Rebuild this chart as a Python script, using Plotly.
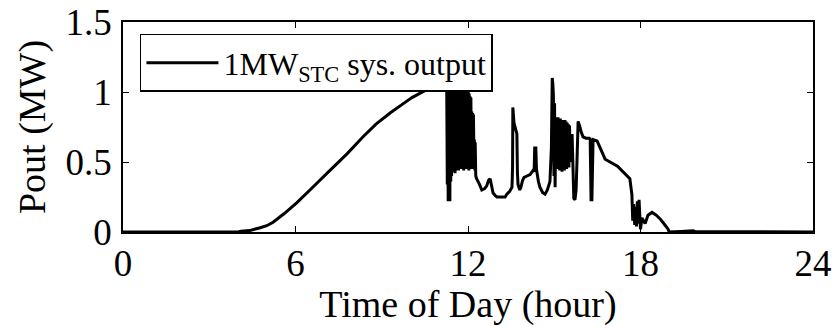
import plotly.graph_objects as go

# Time of day (hour) and PV output (MW)
hours = [
    0.0, 4.0, 4.1, 4.4, 4.77, 5.0, 5.22, 5.6, 6.05, 6.6, 7.2, 7.8, 8.35, 8.8, 9.29, 9.7,
    10.05, 10.5, 11.0, 11.24,
    # dense fluctuation around noon
    11.26, 11.28, 11.29, 11.31, 11.32, 11.34, 11.35, 11.37, 11.38, 11.40, 11.41, 11.43,
    11.44, 11.46, 11.47, 11.49, 11.50, 11.52, 11.53, 11.55, 11.56, 11.58, 11.59, 11.61,
    11.62, 11.64, 11.65, 11.67, 11.68, 11.70, 11.71, 11.73, 11.74, 11.76, 11.77, 11.79,
    11.80, 11.82, 11.83, 11.85, 11.86, 11.88, 11.89, 11.91, 11.92, 11.94, 11.95, 11.97,
    11.98, 12.00, 12.01, 12.03, 12.04, 12.06, 12.07, 12.09, 12.10, 12.12, 12.13, 12.15,
    12.16, 12.18, 12.19, 12.21, 12.22, 12.24, 12.25, 12.27,
    # afternoon
    12.30, 12.40, 12.48, 12.58, 12.65, 12.72, 12.77, 12.82, 12.87, 12.95, 13.01, 13.29,
    13.35, 13.45, 13.53, 13.55, 13.56, 13.60, 13.65, 13.70, 13.72, 13.74, 13.80, 13.84,
    13.90, 13.95, 14.05, 14.16, 14.26, 14.30, 14.32, 14.36, 14.38, 14.45, 14.50, 14.60,
    14.68, 14.76, 14.85, 14.90, 14.93, 14.95, 14.97, 14.99, 15.01, 15.03, 15.05, 15.07,
    15.09, 15.11, 15.13, 15.15, 15.17, 15.19, 15.21, 15.23, 15.25, 15.27, 15.29, 15.31,
    15.33, 15.35, 15.37, 15.39, 15.41, 15.43, 15.45, 15.47, 15.49, 15.51, 15.53, 15.56,
    15.62, 15.68, 15.72, 15.76, 15.79, 15.83, 15.88,
    15.93, 16.00, 16.10, 16.22, 16.25, 16.28, 16.31, 16.35, 16.49, 16.62, 16.77, 17.20,
    17.63, 17.68, 17.70, 17.73, 17.76, 17.80, 17.83, 17.86, 17.89, 17.92, 17.95, 17.98,
    18.00, 18.05, 18.16, 18.26, 18.40, 18.55, 18.70, 18.85, 18.96, 19.0, 19.4, 19.83,
    19.9, 24.0,
]
pout_mw = [
    0.0, 0.0, 0.005, 0.01, 0.03, 0.045, 0.07, 0.13, 0.21, 0.32, 0.44, 0.56, 0.68, 0.77, 0.85, 0.91,
    0.96, 1.01, 1.05, 1.07,
    1.05, 0.34, 1.08, 0.22, 1.06, 0.30, 1.10, 0.22, 1.04, 0.36, 1.08, 0.40,
    1.10, 0.43, 1.06, 0.44, 1.10, 0.45, 1.05, 0.42, 1.08, 0.44, 1.04, 0.46,
    1.07, 0.45, 1.03, 0.44, 1.09, 0.46, 1.05, 0.45, 1.08, 0.47, 1.04, 0.45,
    1.07, 0.46, 1.03, 0.44, 1.06, 0.46, 1.02, 0.45, 1.05, 0.47, 1.03, 0.45,
    1.02, 0.46, 1.00, 0.44, 0.99, 0.46, 0.97, 0.45, 0.96, 0.46, 0.86, 0.45,
    0.85, 0.46, 0.84, 0.45, 0.66, 0.44, 0.64, 0.40,
    0.38, 0.34, 0.30, 0.31, 0.33, 0.37, 0.38, 0.33, 0.28, 0.26, 0.25, 0.25,
    0.27, 0.29, 0.32, 0.46, 0.89, 0.78, 0.74, 0.70, 0.42, 0.34, 0.30, 0.32,
    0.37, 0.39, 0.40, 0.41, 0.44, 0.43, 0.60, 0.60, 0.45, 0.36, 0.32, 0.28,
    0.27, 0.30, 0.36, 0.60, 1.10, 1.06, 0.98, 0.40, 0.92, 0.32, 0.82, 0.55,
    0.80, 0.45, 0.82, 0.47, 0.80, 0.44, 0.81, 0.46, 0.79, 0.43, 0.80, 0.48,
    0.78, 0.44, 0.80, 0.46, 0.79, 0.45, 0.78, 0.47, 0.77, 0.46, 0.76, 0.50,
    0.70, 0.24, 0.23, 0.30, 0.50, 0.79, 0.76, 0.72,
    0.68, 0.67, 0.67, 0.66, 0.23, 0.23, 0.66, 0.65, 0.59, 0.52, 0.47, 0.38,
    0.30, 0.27, 0.08, 0.20, 0.05, 0.18, 0.04, 0.22, 0.06, 0.23, 0.10, 0.02,
    0.10, 0.06, 0.12, 0.14, 0.12, 0.09, 0.05, 0.02, 0.0, 0.004, 0.008, 0.004,
    0.0, 0.0,
]

x_ticks = [0, 6, 12, 18, 24]
y_ticks = [0, 0.5, 1, 1.5]
y_tick_labels = ["0", "0.5", "1", "1.5"]

FONT = "Liberation Serif"

fig = go.Figure()
fig.add_trace(go.Scatter(
    x=hours, y=pout_mw, mode="lines",
    name="1MW<sub>STC</sub> sys. output",
    line=dict(color="black", width=3, simplify=False),
))

fig.update_layout(
    width=832, height=326,
    margin=dict(l=123, r=19, t=22, b=94),
    paper_bgcolor="white", plot_bgcolor="white",
    font=dict(family=FONT, color="black"),
    showlegend=True,
    legend=dict(
        x=0.0246, y=0.943, xanchor="left", yanchor="top",
        bgcolor="white", bordercolor="black", borderwidth=1.5,
        font=dict(family=FONT, size=32, color="black"),
        itemwidth=72,
    ),
)
fig.update_xaxes(
    range=[0, 24], tickvals=x_ticks, ticktext=[str(v) for v in x_ticks],
    ticks="inside", ticklen=6, tickwidth=1, tickcolor="black",
    showline=True, linecolor="black", linewidth=1.5, mirror="ticks",
    showgrid=False, zeroline=False, automargin=False,
    tickfont=dict(family=FONT, size=37),
    ticklabelstandoff=-2,
    title=dict(text="Time of Day (hour)", font=dict(family=FONT, size=38), standoff=8),
)
fig.update_yaxes(
    range=[0, 1.5], tickvals=y_ticks, ticktext=y_tick_labels,
    ticks="inside", ticklen=6, tickwidth=1, tickcolor="black",
    showline=True, linecolor="black", linewidth=1.5, mirror="ticks",
    showgrid=False, zeroline=False, automargin=False,
    tickfont=dict(family=FONT, size=37),
    ticklabelstandoff=2,
    title=dict(text="Pout (MW)", font=dict(family=FONT, size=38), standoff=8),
)

fig.write_html("out.html")
